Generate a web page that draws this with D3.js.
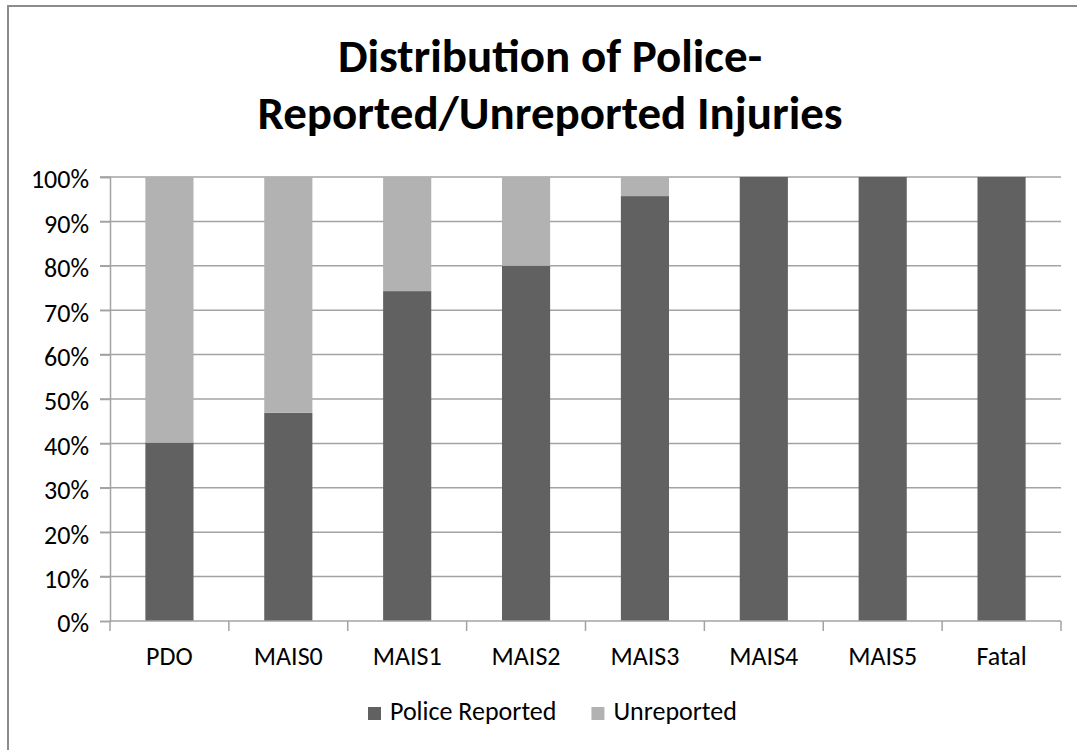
<!DOCTYPE html>
<html>
<head>
<meta charset="utf-8">
<script src="https://cdn.jsdelivr.net/npm/d3@7/dist/d3.min.js"></script>
<style>
  html, body { margin: 0; padding: 0; background: #fff; }
  svg { display: block; }
  text { font-family: Carlito, Calibri, Lato, "Open Sans", sans-serif; fill: #000; }
</style>
</head>
<body>
<svg id="chart" width="1077" height="750"></svg>
<script>
const categories = ["PDO", "MAIS0", "MAIS1", "MAIS2", "MAIS3", "MAIS4", "MAIS5", "Fatal"];
const policeReported = [40.2, 46.9, 74.3, 80.0, 95.7, 100, 100, 100];
const unreported = [59.8, 53.1, 25.7, 20.0, 4.3, 0, 0, 0];
const seriesNames = ["Police Reported", "Unreported"];
const seriesColors = ["#616161", "#b2b2b2"];
const yTicks = [0, 10, 20, 30, 40, 50, 60, 70, 80, 90, 100];
const titleLines = ["Distribution of Police-", "Reported/Unreported Injuries"];

const svg = d3.select("#chart");
const W = 1077, H = 750;
const plot = { left: 110, right: 1061, top: 177, bottom: 621 };
const FONT = "Carlito, Calibri, Lato, 'Open Sans', sans-serif";

// outer border (top and left visible)
svg.append("rect").attr("x", 8).attr("y", 6).attr("width", W + 20).attr("height", H + 20)
  .attr("fill", "#fff").attr("stroke", "#8c8c8c").attr("stroke-width", 2);

// title
const title = svg.append("text").attr("text-anchor", "middle").attr("font-weight", "bold")
  .attr("font-size", 47);
title.selectAll("tspan").data(titleLines).join("tspan")
  .attr("x", 550).attr("y", (d, i) => 72 + i * 57).text(d => d);

const x = d3.scaleBand().domain(categories).range([plot.left, plot.right]).paddingInner(0.595).paddingOuter(0.2975);
const y = d3.scaleLinear().domain([0, 100]).range([plot.bottom, plot.top]);

// gridlines
svg.append("g").selectAll("line").data(yTicks.filter(d => d > 0)).join("line")
  .attr("x1", plot.left - 10).attr("x2", plot.right)
  .attr("y1", d => y(d)).attr("y2", d => y(d))
  .attr("stroke", "#a3a3a3").attr("stroke-width", 1.5);

// stacked bars
const data = categories.map((c, i) => ({ cat: c, "Police Reported": policeReported[i], "Unreported": unreported[i] }));
const stack = d3.stack().keys(seriesNames)(data);
svg.append("g").selectAll("g").data(stack).join("g")
  .attr("fill", (d, i) => seriesColors[i])
  .selectAll("rect").data(d => d).join("rect")
  .attr("x", d => x(d.data.cat))
  .attr("width", x.bandwidth())
  .attr("y", d => y(d[1]))
  .attr("height", d => y(d[0]) - y(d[1]));

// y axis
const yAxis = d3.axisLeft(y).tickValues(yTicks).tickFormat(d => d + "%").tickSize(10).tickPadding(11);
const gy = svg.append("g").attr("transform", `translate(${plot.left},0)`).call(yAxis);
gy.select(".domain").attr("stroke", "#a3a3a3").attr("stroke-width", 1.5);
gy.selectAll(".tick line").attr("stroke", "#a3a3a3").attr("stroke-width", 1.5);
gy.selectAll(".tick text").attr("font-size", 26).attr("fill", "#000")
  .attr("font-family", FONT).attr("dy", "0.42em");

// x axis line
svg.append("line").attr("x1", plot.left).attr("x2", plot.right)
  .attr("y1", plot.bottom).attr("y2", plot.bottom)
  .attr("stroke", "#a3a3a3").attr("stroke-width", 1.5);
// x ticks at band boundaries
const boundaries = d3.range(categories.length + 1).map(i => plot.left + i * (plot.right - plot.left) / categories.length);
svg.append("g").selectAll("line").data(boundaries).join("line")
  .attr("x1", d => d).attr("x2", d => d)
  .attr("y1", plot.bottom).attr("y2", plot.bottom + 10)
  .attr("stroke", "#a3a3a3").attr("stroke-width", 1.5);
// x labels
svg.append("g").selectAll("text").data(categories).join("text")
  .attr("x", d => x(d) + x.bandwidth() / 2).attr("y", 665)
  .attr("text-anchor", "middle").attr("font-size", 26).text(d => d);

// legend
const legend = svg.append("g");
let lx = 368;
seriesNames.forEach((name, i) => {
  legend.append("rect").attr("x", lx).attr("y", 707).attr("width", 13).attr("height", 13).attr("fill", seriesColors[i]);
  const t = legend.append("text").attr("x", lx + 22).attr("y", 720).attr("font-size", 26).text(name);
  lx += 22 + t.node().getComputedTextLength() + 35;
});
</script>
</body>
</html>
